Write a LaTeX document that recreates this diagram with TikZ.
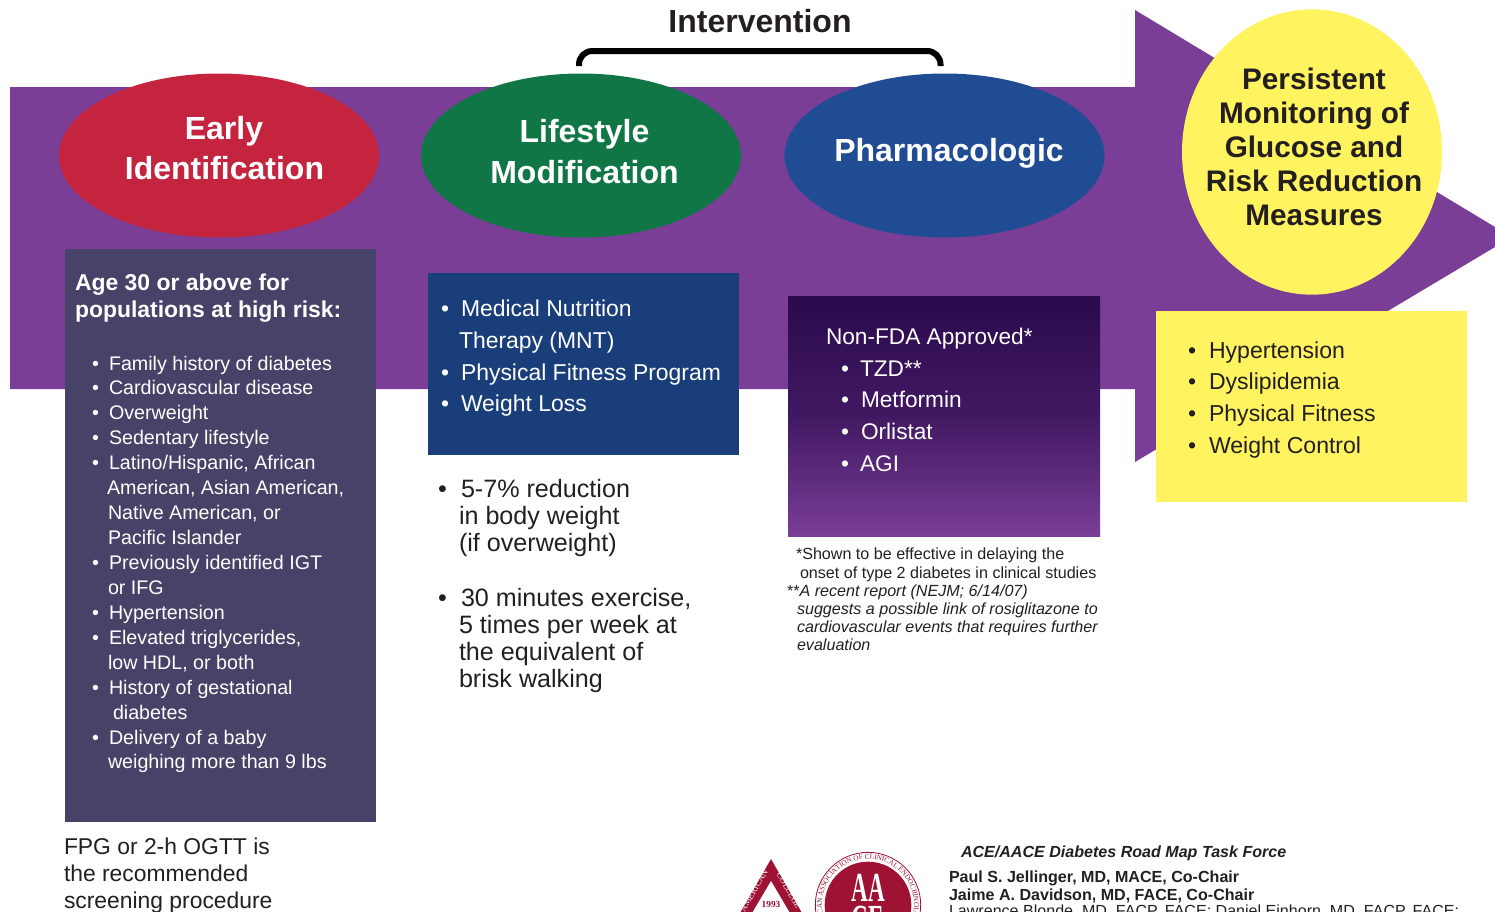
\documentclass[tikz,border=0pt]{standalone}
\usepackage{graphicx}
\usepackage{fontspec}
\setmainfont{Liberation Sans}
\newfontfamily\logofont{Liberation Serif}
\usetikzlibrary{decorations.text,shapes.geometric}
\definecolor{purp}{HTML}{7A3E96}
\definecolor{crim}{HTML}{C5243F}
\definecolor{grn}{HTML}{107646}
\definecolor{blu}{HTML}{204C94}
\definecolor{yel}{HTML}{FFF35F}
\definecolor{slate}{HTML}{474268}
\definecolor{navy}{HTML}{193E7A}
\definecolor{dpurp}{HTML}{2B0A4E}
\definecolor{ink}{HTML}{231F20}
\definecolor{logored}{HTML}{9E1233}
\newcounter{tc}
\newcommand{\tl}[4][ink]{\stepcounter{tc}\node[tline,text=#1] (t\arabic{tc}) at (#2,#3) {#4};}
\tikzset{
  x=0.75pt,y=-0.75pt,
  tline/.style={anchor=base west,inner sep=0pt,outer sep=0pt},
  ctext/.style={anchor=base,inner sep=0pt,outer sep=0pt},
  oval/.style={ellipse,draw=none,minimum width=240pt,minimum height=123pt,inner sep=0pt},
}
\newcommand{\blt}{\textbullet}
\begin{document}
\begin{tikzpicture}
\useasboundingbox (0,0) rectangle (1495,911);
\begin{scope}
\clip (0,0) rectangle (1495,911);
% arrow
\fill[purp] (10,87) -- (1135,87) -- (1135,10) -- (1495,227) -- (1495,247) -- (1135,462) -- (1135,389) -- (10,389) -- cycle;
% ovals
\node[oval,fill=crim] (early) at (219,155.5) {};
\node[oval,fill=grn] (life) at (581,155.5) {};
\node[oval,fill=blu] (pharm) at (944.5,155.5) {};
\node[ellipse,fill=yel,minimum width=195pt,minimum height=214pt,inner sep=0pt] (persist) at (1312,152) {};
% panels
\fill[slate] (65,249) rectangle (376,822);
\fill[navy] (428,273) rectangle (739,455);
\shade[top color=dpurp,bottom color=purp,middle color=dpurp!72!purp] (788,296) rectangle (1100,536);
\fill[yel] (1156,311) rectangle (1467,502);
% bracket
\coordinate (bl) at (579,66);
\coordinate (br) at (940.5,66);
\draw[line width=4.5pt,black,rounded corners=10pt] (bl) -- (579,51) -- (940.5,51) -- (br);
% headers
\node[ctext,font=\bfseries\fontsize{24}{24}\selectfont,text=ink] (interv) at (760,32) {Intervention};
\begin{scope}[every node/.style={ctext,font=\bfseries\fontsize{24}{24}\selectfont,text=white}]
\node (e1) at (224,139) {Early};
\node (e2) at (224.5,179) {Identification};
\node (l1) at (584.5,142) {Lifestyle};
\node (l2) at (584.5,183) {Modification};
\node (p1) at (949,161) {Pharmacologic};
\end{scope}
\begin{scope}[every node/.style={ctext,font=\bfseries\fontsize{22.3}{22.3}\selectfont,text=ink}]
\node (q1) at (1314,89) {Persistent};
\node (q2) at (1314,123.5) {Monitoring of};
\node (q3) at (1314,157) {Glucose and};
\node (q4) at (1314,191) {Risk Reduction};
\node (q5) at (1314,225) {Measures};
\end{scope}
% left panel
\begin{scope}[every node/.style={font=\bfseries\fontsize{17.2}{17.2}\selectfont}]
\tl[white]{75}{290}{Age 30 or above for}
\tl[white]{75}{317}{populations at high risk:}
\end{scope}
\begin{scope}[every node/.style={font=\fontsize{14.75}{14.75}\selectfont}]
\foreach \y in {370,394,419,444,469,569,619,644,694,744} {\tl[white]{92}{\y}{\blt}}
\tl[white]{109}{370}{Family history of diabetes}
\tl[white]{109}{394}{Cardiovascular disease}
\tl[white]{109}{419}{Overweight}
\tl[white]{109}{444}{Sedentary lifestyle}
\tl[white]{109}{469}{Latino/Hispanic, African}
\tl[white]{107}{494}{American, Asian American,}
\tl[white]{108}{519}{Native American, or}
\tl[white]{108}{544}{Pacific Islander}
\tl[white]{109}{569}{Previously identified IGT}
\tl[white]{108}{594}{or IFG}
\tl[white]{109}{619}{Hypertension}
\tl[white]{109}{644}{Elevated triglycerides,}
\tl[white]{108}{669}{low HDL, or both}
\tl[white]{109}{694}{History of gestational}
\tl[white]{113}{719}{diabetes}
\tl[white]{109}{744}{Delivery of a baby}
\tl[white]{108}{768}{weighing more than 9 lbs}
\end{scope}
\begin{scope}[every node/.style={font=\fontsize{17.15}{17.15}\selectfont}]
\tl{64}{854}{FPG or 2-h OGTT is}
\tl{64}{881}{the recommended}
\tl{64}{908}{screening procedure}
\end{scope}
% middle panel
\begin{scope}[every node/.style={font=\fontsize{17.2}{17.2}\selectfont}]
\foreach \y in {316,380,411} {\tl[white]{441}{\y}{\blt}}
\tl[white]{461}{316}{Medical Nutrition}
\tl[white]{459}{348}{Therapy (MNT)}
\tl[white]{461}{380}{Physical Fitness Program}
\tl[white]{461}{411}{Weight Loss}
\end{scope}
\begin{scope}[every node/.style={font=\fontsize{18.85}{18.85}\selectfont}]
\foreach \y in {497,606} {\tl{438}{\y}{\blt}}
\tl{461}{497}{5-7\% reduction}
\tl{459}{524}{in body weight}
\tl{459}{551}{(if overweight)}
\tl{461}{606}{30 minutes exercise,}
\tl{459}{633}{5 times per week at}
\tl{459}{660}{the equivalent of}
\tl{459}{687}{brisk walking}
\end{scope}
% right panel
\begin{scope}[every node/.style={font=\fontsize{17}{17}\selectfont}]
\tl[white]{826}{344}{Non-FDA Approved*}
\foreach \y in {376,407,439,471} {\tl[white]{841}{\y}{\blt}}
\tl[white]{860}{376}{TZD**}
\tl[white]{861}{407}{Metformin}
\tl[white]{861}{439}{Orlistat}
\tl[white]{860}{471}{AGI}
\end{scope}
\begin{scope}[every node/.style={font=\fontsize{12.08}{12.08}\selectfont}]
\tl{796}{559}{*Shown to be effective in delaying the}
\tl{800}{578}{onset of type 2 diabetes in clinical studies}
\tl{787}{596}{**\textit{A recent report (NEJM; 6/14/07)}}
\tl{797}{614}{\textit{suggests a possible link of rosiglitazone to}}
\tl{797}{632}{\textit{cardiovascular events that requires further}}
\tl{797}{650}{\textit{evaluation}}
\end{scope}
% yellow panel
\begin{scope}[every node/.style={font=\fontsize{17.3}{17.3}\selectfont}]
\foreach \y in {358,389,421,453} {\tl{1188}{\y}{\blt}}
\tl{1209}{358}{Hypertension}
\tl{1209}{389}{Dyslipidemia}
\tl{1209}{421}{Physical Fitness}
\tl{1209}{453}{Weight Control}
\end{scope}
% credits
\tl{961}{857}{\fontsize{12.05}{12.05}\selectfont\bfseries\itshape ACE/AACE Diabetes Road Map Task Force}
\tl{949}{882}{\fontsize{12.05}{12.05}\selectfont\bfseries Paul S. Jellinger, MD, MACE, Co-Chair}
\tl{949}{900}{\fontsize{12.05}{12.05}\selectfont\bfseries Jaime A. Davidson, MD, FACE, Co-Chair}
\tl{949}{916}{\fontsize{12.05}{12.05}\selectfont Lawrence Blonde, MD, FACP, FACE; Daniel Einhorn, MD, FACP, FACE;}
% logos
\fill[logored] (771,859) -- (806,920) -- (736,920) -- cycle;
\fill[white] (771,881) -- (794,920) -- (748,920) -- cycle;
\node[ctext,font=\logofont\bfseries\fontsize{7}{7}\selectfont,text=logored] (yr) at (771,907) {1993};
\node[ctext,font=\logofont\fontsize{6.6}{6.6}\selectfont,text=white,rotate=-60] (col) at (786.5,892) {COLLEGE};
\node[ctext,font=\logofont\fontsize{6.6}{6.6}\selectfont,text=white,rotate=60] (am) at (756.5,892) {AMERICAN};
\node[circle,draw=logored,line width=0.6pt,fill=white,minimum size=79pt,inner sep=0pt] (ring) at (868,905) {};
\node[circle,fill=logored,minimum size=65pt,inner sep=0pt] (disc) at (868,905) {};
\node[ctext,font=\logofont\bfseries\fontsize{31}{31}\selectfont,text=white] (aa) at (868,901) {\scalebox{0.56}[1]{AA}};
\node[ctext,font=\logofont\bfseries\fontsize{31}{31}\selectfont,text=white] (ce) at (868,933) {\scalebox{0.56}[1]{CE}};
\path[decorate,decoration={text along path,text align=center,text={|\logofont\fontsize{5.4}{5.4}\selectfont\color{logored}|AMERICAN ASSOCIATION OF CLINICAL ENDOCRINOLOGISTS}}]
  (868,905) ++(100:46) arc[start angle=100,end angle=440,radius=46];
\end{scope}
\end{tikzpicture}
\end{document}
